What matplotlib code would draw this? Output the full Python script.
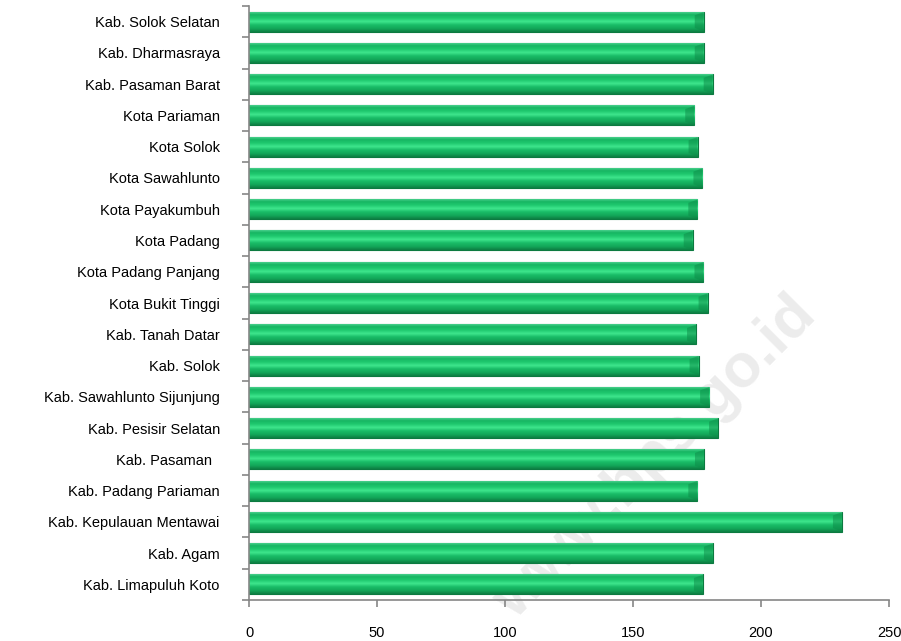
import numpy as np
import matplotlib.pyplot as plt
from matplotlib.colors import LinearSegmentedColormap

plt.rcParams['font.family'] = ['Liberation Sans', 'DejaVu Sans']

# bottom to top
regions = ["Kab. Limapuluh Koto", "Kab. Agam", "Kab. Kepulauan Mentawai",
           "Kab. Padang Pariaman", "Kab. Pasaman  ", "Kab. Pesisir Selatan",
           "Kab. Sawahlunto Sijunjung", "Kab. Solok", "Kab. Tanah Datar",
           "Kota Bukit Tinggi", "Kota Padang Panjang", "Kota Padang",
           "Kota Payakumbuh", "Kota Sawahlunto", "Kota Solok", "Kota Pariaman",
           "Kab. Pasaman Barat", "Kab. Dharmasraya", "Kab. Solok Selatan"]
values = [177.3, 181.2, 231.6, 175.1, 177.7, 183.2, 179.7, 175.6, 174.6,
          179.1, 177.5, 173.3, 175.1, 177.1, 175.2, 173.9, 181.1, 177.6, 177.6]
xticks = [0, 50, 100, 150, 200, 250]

fig = plt.figure(figsize=(9.01, 6.41), dpi=100)
ax = fig.add_axes([0.2764, 0.064, 0.9867 - 0.2764, 0.9906 - 0.064])

# faint watermark behind the bars
ax.text(0.728, 0.285, 'www.bps.go.id', transform=fig.transFigure, fontsize=44,
        fontweight='bold', color='#ececec', rotation=45, ha='center',
        va='center', zorder=0, clip_on=False)

y = np.arange(len(regions))
bars = ax.barh(y, values, height=0.64, color='#14a95b', edgecolor='#0c7a40',
               linewidth=0.8, zorder=2)

# vertical shading on each bar, like the glossy excel bars
shade = LinearSegmentedColormap.from_list(
    'shade', ['#0d7f43', '#13a85a', '#19bb66', '#3fe68d', '#1fc96f', '#17b662', '#5ad99c'])
grad = np.linspace(0, 1, 64).reshape(-1, 1)
for b in bars:
    x0, y0 = b.get_x(), b.get_y()
    w, h = b.get_width(), b.get_height()
    im = ax.imshow(grad, extent=[x0, x0 + w, y0, y0 + h], origin='lower',
                   cmap=shade, aspect='auto', zorder=2.5)
    im.set_clip_path(b)
    # bevel at the right end
    ax.fill([x0 + w - 3.5, x0 + w, x0 + w, x0 + w - 3.5],
            [y0 + h * 0.18, y0 + h * 0.02, y0 + h * 0.98, y0 + h * 0.82],
            color='#0e8a48', alpha=0.5, lw=0, zorder=2.6)

ax.set_xlim(0, 250)
ax.set_ylim(-0.5, len(regions) - 0.5)
ax.set_xticks(xticks)
ax.set_xticklabels([str(t) for t in xticks], fontsize=10.5)
ax.set_yticks(y)
ax.set_yticklabels(regions, fontsize=10.5)
ax.set_yticks(np.arange(len(regions) + 1) - 0.5, minor=True)

ax.tick_params(axis='y', which='major', length=0, pad=21)
ax.tick_params(axis='y', which='minor', length=5, width=1.2, color='#868686')
ax.tick_params(axis='x', length=5, width=1.2, color='#868686', pad=14)

for s in ['top', 'right']:
    ax.spines[s].set_visible(False)
for s in ['left', 'bottom']:
    ax.spines[s].set_color('#868686')
    ax.spines[s].set_linewidth(1.2)

ax.set_facecolor('none')

fig.savefig('out.png', dpi=100)
